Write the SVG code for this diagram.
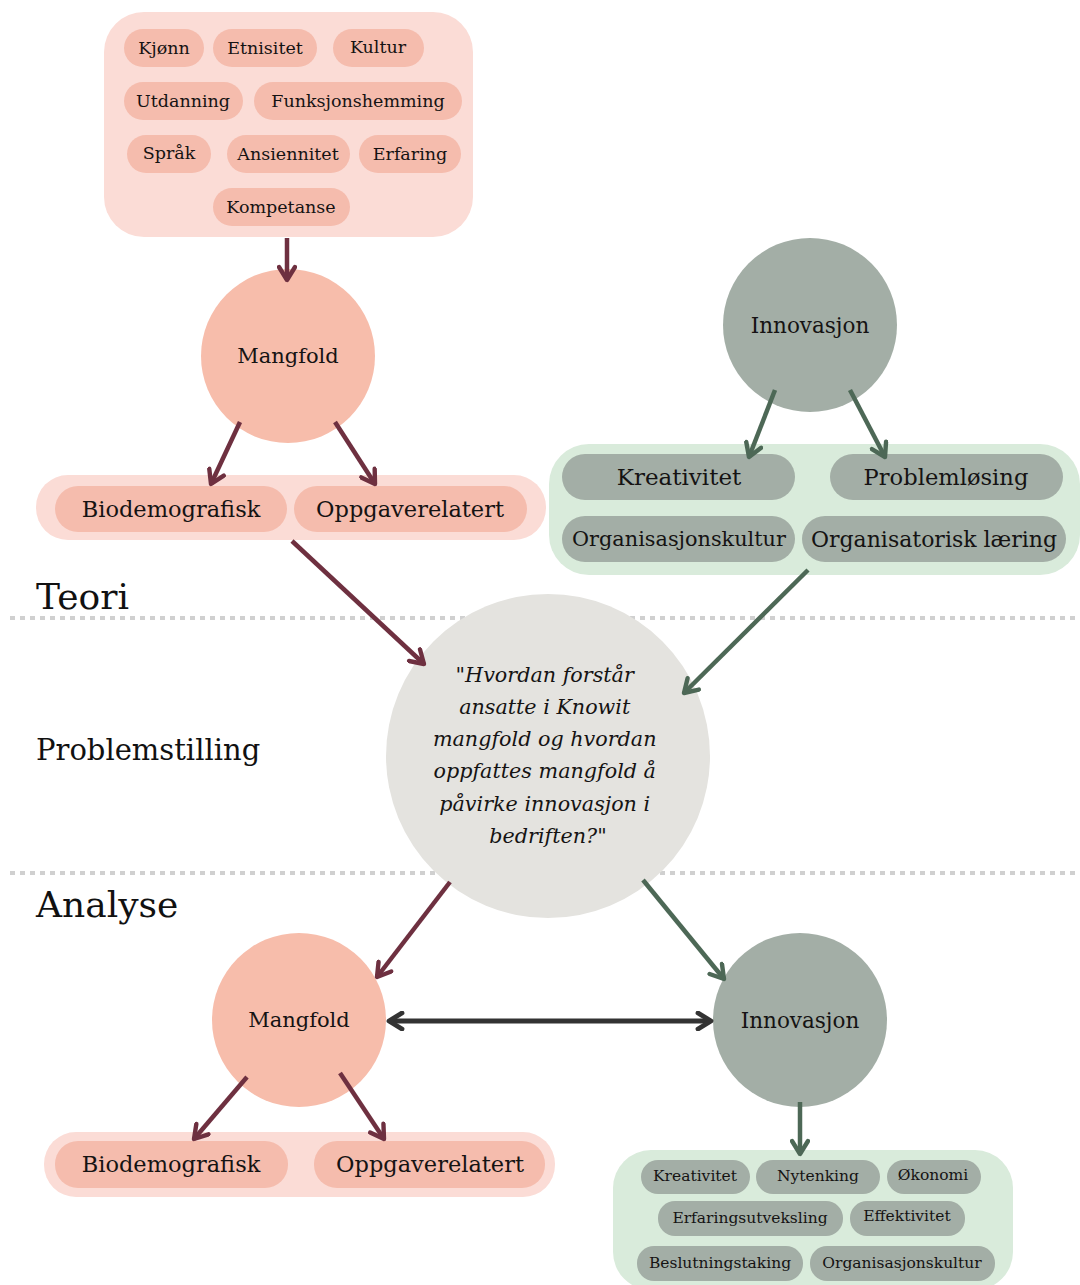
<svg xmlns="http://www.w3.org/2000/svg" width="1080" height="1285" viewBox="0 0 1080 1285">
<style>
  .t { font-family: "DejaVu Serif", "Liberation Serif", serif; fill: #151313; text-anchor: middle; dominant-baseline: central; }
  .lbl { font-family: "DejaVu Serif", "Liberation Serif", serif; fill: #111; }
  .pinkbox { fill: #fbdcd6; }
  .pinkpill { fill: #f5bcad; }
  .greenbox { fill: #d9ebdb; }
  .greenpill { fill: #a3aea6; }
  .pinkc { fill: #f7bdab; }
  .greenc { fill: #a3aea6; }
  .m { stroke: #6e3040; stroke-width: 4.5; fill: none; }
  .g { stroke: #4d6856; stroke-width: 4.5; fill: none; }
  .d { stroke: #333333; stroke-width: 5; fill: none; }
  .dots { stroke: #d0d0d0; stroke-width: 4; stroke-dasharray: 5 5; }
</style>
<defs>
  <marker id="am" viewBox="0 0 10 10" refX="8" refY="5" markerWidth="20" markerHeight="20" markerUnits="userSpaceOnUse" orient="auto">
    <path d="M1.5,1 L8,5 L1.5,9" fill="none" stroke="#6e3040" stroke-width="2.2" stroke-linecap="round" stroke-linejoin="round"/>
  </marker>
  <marker id="ag" viewBox="0 0 10 10" refX="8" refY="5" markerWidth="20" markerHeight="20" markerUnits="userSpaceOnUse" orient="auto">
    <path d="M1.5,1 L8,5 L1.5,9" fill="none" stroke="#4d6856" stroke-width="2.2" stroke-linecap="round" stroke-linejoin="round"/>
  </marker>
  <marker id="ad" viewBox="0 0 10 10" refX="8" refY="5" markerWidth="20" markerHeight="20" markerUnits="userSpaceOnUse" orient="auto-start-reverse">
    <path d="M1.5,1 L8,5 L1.5,9" fill="none" stroke="#333333" stroke-width="2.4" stroke-linecap="round" stroke-linejoin="round"/>
  </marker>
</defs>
<rect width="1080" height="1285" fill="#ffffff"/>

<!-- dotted separators -->
<line class="dots" x1="10" y1="618" x2="1080" y2="618"/>
<line class="dots" x1="10" y1="873" x2="1080" y2="873"/>

<!-- section labels -->
<text class="lbl" x="36" y="609" font-size="36">Teori</text>
<text class="lbl" x="36" y="760" font-size="29">Problemstilling</text>
<text class="lbl" x="36" y="917" font-size="36">Analyse</text>

<!-- top attributes box -->
<g id="attributter">
  <rect class="pinkbox" x="104" y="12" width="369" height="225" rx="40"/>
  <rect class="pinkpill" x="124" y="29" width="80" height="38" rx="19"/>
  <text class="t" x="164" y="48" font-size="17.5">Kjønn</text>
  <rect class="pinkpill" x="213" y="29" width="104" height="38" rx="19"/>
  <text class="t" x="265" y="48" font-size="17.5">Etnisitet</text>
  <rect class="pinkpill" x="333" y="29" width="91" height="38" rx="19"/>
  <text class="t" x="378" y="47" font-size="17.5">Kultur</text>
  <rect class="pinkpill" x="124" y="82" width="119" height="38" rx="19"/>
  <text class="t" x="183" y="101" font-size="17.5">Utdanning</text>
  <rect class="pinkpill" x="254" y="82" width="208" height="38" rx="19"/>
  <text class="t" x="358" y="101" font-size="17.5">Funksjonshemming</text>
  <rect class="pinkpill" x="127" y="135" width="84" height="38" rx="19"/>
  <text class="t" x="169" y="153" font-size="17.5">Språk</text>
  <rect class="pinkpill" x="227" y="135" width="123" height="38" rx="19"/>
  <text class="t" x="288" y="154" font-size="17.5">Ansiennitet</text>
  <rect class="pinkpill" x="359" y="135" width="102" height="38" rx="19"/>
  <text class="t" x="410" y="154" font-size="17.5">Erfaring</text>
  <rect class="pinkpill" x="213" y="188" width="137" height="38" rx="19"/>
  <text class="t" x="281" y="207" font-size="17.5">Kompetanse</text>
</g>

<g id="mangfold-teori">
  <circle class="pinkc" cx="288" cy="356" r="87"/>
  <text class="t" x="288" y="356" font-size="21">Mangfold</text>
</g>

<g id="innovasjon-teori">
  <circle class="greenc" cx="810" cy="325" r="87"/>
  <text class="t" x="810" y="325" font-size="21.5">Innovasjon</text>
</g>

<g id="mangfold-typer-teori">
  <rect class="pinkbox" x="36" y="475" width="510" height="65" rx="32"/>
  <rect class="pinkpill" x="55" y="486" width="232" height="46" rx="23"/>
  <text class="t" x="171" y="509" font-size="22.5">Biodemografisk</text>
  <rect class="pinkpill" x="294" y="486" width="233" height="46" rx="23"/>
  <text class="t" x="410" y="509" font-size="22.5">Oppgaverelatert</text>
</g>

<g id="innovasjon-faktorer-teori">
  <rect class="greenbox" x="549" y="444" width="531" height="131" rx="40"/>
  <rect class="greenpill" x="562" y="454" width="233" height="46" rx="23"/>
  <text class="t" x="679" y="477" font-size="23">Kreativitet</text>
  <rect class="greenpill" x="830" y="454" width="233" height="46" rx="23"/>
  <text class="t" x="946" y="477" font-size="22.6">Problemløsing</text>
  <rect class="greenpill" x="562" y="516" width="233" height="46" rx="23"/>
  <text class="t" x="679" y="539" font-size="20.8">Organisasjonskultur</text>
  <rect class="greenpill" x="802" y="516" width="264" height="46" rx="23"/>
  <text class="t" x="934" y="539" font-size="22">Organisatorisk læring</text>
</g>

<g id="problemstilling">
  <circle cx="548" cy="756" r="162" fill="#e4e3df"/>
  <text class="t" font-size="20.7" font-style="italic">
    <tspan x="548" y="675">"Hvordan forstår</tspan>
    <tspan x="548" y="707">ansatte i Knowit</tspan>
    <tspan x="548" y="739">mangfold og hvordan</tspan>
    <tspan x="548" y="771">oppfattes mangfold å</tspan>
    <tspan x="548" y="804">påvirke innovasjon i</tspan>
    <tspan x="548" y="836">bedriften?"</tspan>
  </text>
</g>

<g id="mangfold-analyse">
  <circle class="pinkc" cx="299" cy="1020" r="87"/>
  <text class="t" x="299" y="1020" font-size="21">Mangfold</text>
</g>

<g id="innovasjon-analyse">
  <circle class="greenc" cx="800" cy="1020" r="87"/>
  <text class="t" x="800" y="1020" font-size="21.5">Innovasjon</text>
</g>

<g id="mangfold-typer-analyse">
  <rect class="pinkbox" x="44" y="1132" width="511" height="65" rx="32"/>
  <rect class="pinkpill" x="55" y="1141" width="233" height="47" rx="23"/>
  <text class="t" x="171" y="1164" font-size="22.5">Biodemografisk</text>
  <rect class="pinkpill" x="314" y="1141" width="231" height="47" rx="23"/>
  <text class="t" x="430" y="1164" font-size="22.5">Oppgaverelatert</text>
</g>

<g id="innovasjon-faktorer-analyse">
  <rect class="greenbox" x="613" y="1150" width="400" height="140" rx="38"/>
  <rect class="greenpill" x="641" y="1160" width="109" height="34" rx="17"/>
  <text class="t" x="695" y="1176" font-size="15.5">Kreativitet</text>
  <rect class="greenpill" x="756" y="1160" width="124" height="34" rx="17"/>
  <text class="t" x="818" y="1176" font-size="15.5">Nytenking</text>
  <rect class="greenpill" x="887" y="1160" width="94" height="34" rx="17"/>
  <text class="t" x="933" y="1175" font-size="15.5">Økonomi</text>
  <rect class="greenpill" x="658" y="1201" width="185" height="35" rx="17"/>
  <text class="t" x="750" y="1218" font-size="15.5">Erfaringsutveksling</text>
  <rect class="greenpill" x="850" y="1201" width="115" height="35" rx="17"/>
  <text class="t" x="907" y="1216" font-size="15.5">Effektivitet</text>
  <rect class="greenpill" x="637" y="1246" width="166" height="35" rx="17"/>
  <text class="t" x="720" y="1263" font-size="15.5">Beslutningstaking</text>
  <rect class="greenpill" x="810" y="1246" width="185" height="35" rx="17"/>
  <text class="t" x="902" y="1263" font-size="15.5">Organisasjonskultur</text>
</g>

<g id="connectors">
  <line class="m" x1="287" y1="238" x2="287" y2="280" marker-end="url(#am)"/>
  <line class="m" x1="240" y1="422" x2="211" y2="484" marker-end="url(#am)"/>
  <line class="m" x1="335" y1="422" x2="375" y2="484" marker-end="url(#am)"/>
  <line class="g" x1="775" y1="390" x2="749" y2="457" marker-end="url(#ag)"/>
  <line class="g" x1="850" y1="390" x2="885" y2="457" marker-end="url(#ag)"/>
  <line class="m" x1="292" y1="541" x2="424" y2="664" marker-end="url(#am)"/>
  <line class="g" x1="808" y1="570" x2="684" y2="693" marker-end="url(#ag)"/>
  <line class="m" x1="450" y1="882" x2="377" y2="977" marker-end="url(#am)"/>
  <line class="g" x1="643" y1="880" x2="724" y2="979" marker-end="url(#ag)"/>
  <line class="d" x1="389" y1="1021" x2="711" y2="1021" marker-start="url(#ad)" marker-end="url(#ad)"/>
  <line class="m" x1="247" y1="1077" x2="194" y2="1139" marker-end="url(#am)"/>
  <line class="m" x1="340" y1="1073" x2="384" y2="1139" marker-end="url(#am)"/>
  <line class="g" x1="800" y1="1102" x2="800" y2="1154" marker-end="url(#ag)"/>
</g>
</svg>
